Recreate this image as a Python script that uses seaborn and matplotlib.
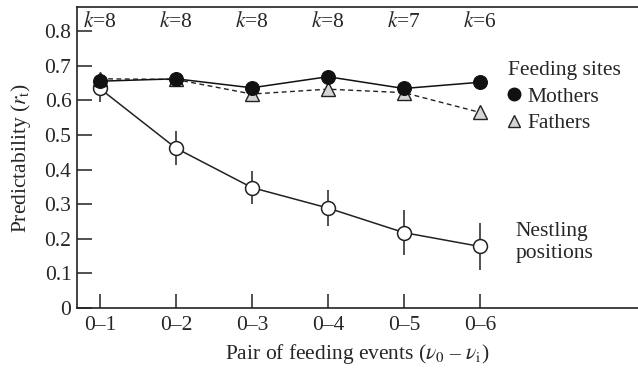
import matplotlib
matplotlib.use("Agg")
import matplotlib.pyplot as plt
from matplotlib.lines import Line2D
import seaborn as sns
import pandas as pd
import numpy as np

categories = ["0\u20131", "0\u20132", "0\u20133", "0\u20134", "0\u20135", "0\u20136"]
k_labels = ["8", "8", "8", "8", "7", "6"]
mothers = [0.655, 0.662, 0.636, 0.668, 0.634, 0.652]
fathers = [0.662, 0.660, 0.618, 0.632, 0.622, 0.565]
nestlings = [0.634, 0.462, 0.348, 0.289, 0.218, 0.178]
nestling_err = [0.040, 0.050, 0.047, 0.052, 0.064, 0.067]

sns.set_theme(style="ticks")
plt.rcParams["font.family"] = ["Liberation Serif", "DejaVu Serif"]
plt.rcParams["mathtext.fontset"] = "stix"

FS = 15.5

x = np.arange(len(categories))
df = pd.DataFrame({"x": x, "Mothers": mothers, "Fathers": fathers, "Nestlings": nestlings})

fig = plt.figure(figsize=(6.38, 3.73), dpi=100)
ax = fig.add_axes([0.1207, 0.174, 0.8793, 0.807])

ax.errorbar(x, nestlings, yerr=nestling_err, fmt="none", ecolor="#333333", elinewidth=1.2, zorder=2)
sns.lineplot(data=df, x="x", y="Nestlings", ax=ax, color="#222222", linewidth=1.1,
             marker="o", markersize=10, markerfacecolor="white", markeredgecolor="#222222",
             markeredgewidth=1.1, zorder=3)
sns.lineplot(data=df, x="x", y="Fathers", ax=ax, color="#222222", linewidth=1.0,
             linestyle=(0, (3.5, 2.5)), marker="^", markersize=10.5, markerfacecolor="#d4d4d4",
             markeredgecolor="#222222", markeredgewidth=1.0, zorder=4)
sns.lineplot(data=df, x="x", y="Mothers", ax=ax, color="#111111", linewidth=1.1,
             marker="o", markersize=10, markerfacecolor="#111111", markeredgecolor="#111111",
             zorder=5)

ax.set_xlim(-0.30, 7.08)
ax.set_ylim(0, 0.869)
ax.set_xticks(x)
ax.set_xticklabels(categories)
ax.set_yticks(np.arange(0, 0.81, 0.1))
ax.set_yticklabels(["0"] + [f"{v:.1f}" for v in np.arange(0.1, 0.81, 0.1)])
ax.tick_params(axis="both", direction="in", labelsize=FS, width=1.1, color="#222222")
ax.tick_params(axis="y", length=11, pad=4)
ax.tick_params(axis="x", length=10, pad=6)
for s in ["left", "bottom", "top"]:
    ax.spines[s].set_linewidth(1.2)
    ax.spines[s].set_color("#222222")
ax.spines["right"].set_visible(False)

ax.set_xlabel(r"Pair of feeding events ($\nu_0$ – $\nu_\mathrm{i}$)", fontsize=FS, labelpad=5)
ax.set_ylabel(r"Predictability ($r_\mathrm{t}$)", fontsize=FS, labelpad=8)

for xi, kk in zip(x, k_labels):
    ax.text(xi, 0.826, r"$\mathit{k}$=" + kk, ha="center", va="center", fontsize=FS)

handles = [
    Line2D([], [], linestyle="none", marker="o", markersize=9, markerfacecolor="#111111",
           markeredgecolor="#111111"),
    Line2D([], [], linestyle="none", marker="^", markersize=9, markerfacecolor="#d4d4d4",
           markeredgecolor="#222222"),
]
leg = ax.legend(handles, ["Mothers", "Fathers"], title="Feeding sites", loc="upper left",
                bbox_to_anchor=(0.768, 0.822), frameon=False, fontsize=FS, title_fontsize=FS,
                handlelength=0.6, handletextpad=0.3, labelspacing=0.3, borderaxespad=0,
                borderpad=0)
leg._legend_box.align = "left"
leg._legend_box.sep = 5

ax.text(5.47, 0.19, "Nestling\npositions", ha="left", va="center", fontsize=FS, linespacing=1.25)

fig.savefig("out.png", dpi=100)
